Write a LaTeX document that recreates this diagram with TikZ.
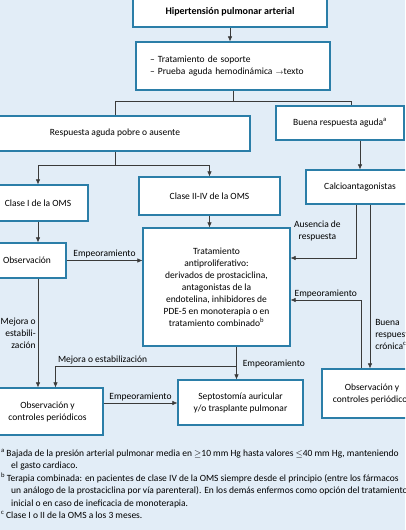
\documentclass[tikz,border=0pt]{standalone}
\usepackage{fontspec}
\setmainfont{Carlito}
\usepackage{tikz}
\usetikzlibrary{arrows.meta, calc}
\definecolor{fondo}{HTML}{E2EDF7}
\definecolor{borde}{HTML}{2B7EA8}
\definecolor{linea}{HTML}{3A3A3A}
\tikzset{
  caja/.style={draw=borde, fill=white, line width=1.2pt, inner sep=0pt, align=center},
  linea/.style={draw=linea, line width=0.6pt},
  flecha/.style={linea, -{Latex[length=5pt,width=4.5pt]}},
  etiq/.style={font=\fontsize{9.5}{12}\selectfont, inner sep=2pt, align=center}
}
\begin{document}
\begin{tikzpicture}[x=1pt, y=-1pt, font=\fontsize{9.5}{12}\selectfont]
	\clip (0,0) rectangle (405,530);
	\fill[fondo] (0,0) rectangle (405,530);

	% cajas
	\node[caja, minimum width=194, minimum height=30, font=\fontsize{10}{12}\selectfont] (hpa) at (230,12) {\textbf{Hipertensión pulmonar arterial}};
	\node[caja, minimum width=194, minimum height=48, text width=166, align=left] (sop) at (233,66)
		{-- Tratamiento de soporte\\ -- Prueba aguda hemodinámica {\scriptsize$\rightarrow$}texto};
	\node[caja, minimum width=270, minimum height=35] (resp) at (115,133.5) {Respuesta aguda pobre o ausente};
	\node[caja, minimum width=128, minimum height=34] (buena) at (340,123) {Buena respuesta aguda\textsuperscript{a}};
	\node[caja, minimum width=100, minimum height=36] (clasei) at (38,203) {Clase I de la OMS};
	\node[caja, minimum width=141, minimum height=38] (claseii) at (209.5,196) {Clase II-IV de la OMS};
	\node[caja, minimum width=108, minimum height=34] (calcio) at (360,187) {Calcioantagonistas};
	\node[caja, minimum width=78, minimum height=35] (obs) at (27,260.5) {Observación};
	\node[caja, minimum width=147, minimum height=118] (trat) at (216.5,287)
		{Tratamiento\\ antiproliferativo:\\ derivados de prostaciclina,\\ antagonistas de la\\ endotelina, inhibidores de\\ PDE-5 en monoterapia o en\\ tratamiento combinado\textsuperscript{b}};
	\node[caja, minimum width=111, minimum height=47] (obsii) at (47.5,411.5) {Observación y\\ controles periódicos};
	\node[caja, minimum width=125, minimum height=45] (sept) at (240.5,402.5) {Septostomía auricular\\ y/o trasplante pulmonar};
	\node[caja, minimum width=100, minimum height=49] (obsd) at (372,393.5) {Observación y\\ controles periódicos};

	% conectores
	\draw[flecha] (hpa.south) -- (hpa.south |- sop.north);
	\draw[linea] (sop.south) -- ++(0,11) coordinate (ra);
	\draw[linea] (resp.north) |- (ra) -| ([xshift=11pt]buena.north);
	\draw[linea] (resp.south) -- ++(0,14) coordinate (rb);
	\draw[flecha] (rb) -| (clasei.north);
	\draw[flecha] (rb) -| (claseii.north);
	\draw[flecha] (calcio.north |- buena.south) -- (calcio.north);
	\draw[flecha] (claseii.south) -- (claseii.south |- trat.north);
	\draw[flecha] (clasei.south) -- (clasei.south |- obs.north);
	\draw[flecha] (obs.east) -- node[etiq, above] {Empeoramiento} (obs.east -| trat.west);
	\draw[flecha] ([xshift=-4pt]calcio.south) |- node[etiq, pos=0.25, left, xshift=-13pt] {Ausencia de\\ respuesta} ([yshift=29pt]trat.east);
	\draw[flecha] ([xshift=-11pt]obsd.north) |- node[etiq, pos=0.75, above] {Empeoramiento} ([yshift=-13pt]trat.east);
	\draw[flecha] ([xshift=10pt]calcio.south) -- node[etiq, pos=0.79, right, align=left, xshift=3pt] {Buena\\ respuesta\\ crónica\textsuperscript{c}} ([xshift=10pt]calcio.south |- obsd.north);
	\draw[linea] ([xshift=20pt]trat.south) -- node[etiq, pos=0.85, right, xshift=4pt] {Empeoramiento} ([xshift=20pt,yshift=-20pt]trat.south) coordinate (rc);
	\draw[flecha] (rc) -- (rc |- sept.north);
	\draw[flecha] (rc) -| node[etiq, pos=0.37, above] {Mejora o estabilización} ([xshift=8pt]obsii.north);
	\draw[flecha] ([xshift=11pt]obs.south) -- node[etiq, left, align=right] {Mejora o\\ estabili-\\ zación} ([xshift=11pt]obs.south |- obsii.north);
	\draw[flecha] ([yshift=8.5pt]obsii.east) -- node[etiq, above] {Empeoramiento} ([yshift=8.5pt]obsii.east -| sept.west);

	% notas
	\node[anchor=north west, align=left, inner sep=0pt, font=\fontsize{9.5}{12.5}\selectfont] (notas) at (1,449)
		{\textsuperscript{a}\,Bajada de la presión arterial pulmonar media en $\geq$10 mm Hg hasta valores $\leq$40 mm Hg, manteniendo\\
		\hspace*{10pt}el gasto cardiaco.\\
		\textsuperscript{b}\,Terapia combinada: en pacientes de clase IV de la OMS siempre desde el principio (entre los fármacos\\
		\hspace*{10pt}un análogo de la prostaciclina por vía parenteral). En los demás enfermos como opción del tratamiento\\
		\hspace*{10pt}inicial o en caso de ineficacia de monoterapia.\\
		\textsuperscript{c}\,Clase I o II de la OMS a los 3 meses.};
\end{tikzpicture}
\end{document}
